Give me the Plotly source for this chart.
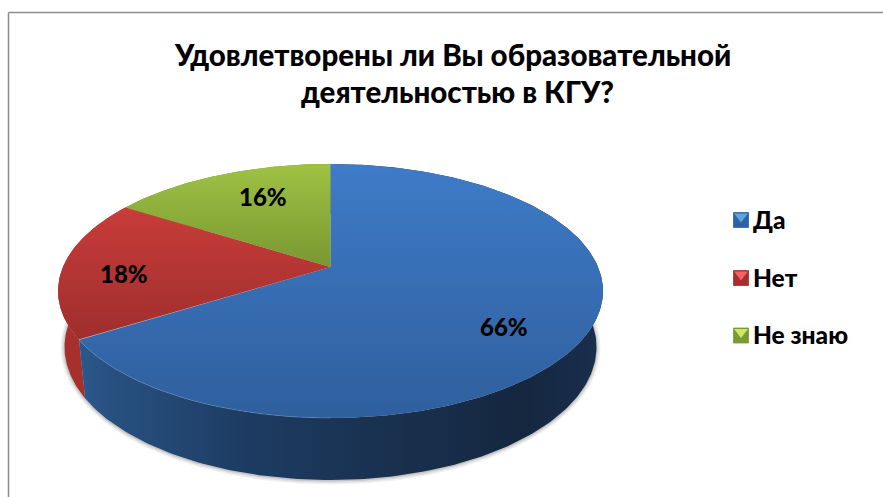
import numpy as np
import plotly.graph_objects as go

# ---- data ----
categories = ["Да", "Нет", "Не знаю"]
values = [66, 18, 16]
labels = ["66%", "18%", "16%"]
title_lines = ["Удовлетворены ли Вы образовательной", "деятельностью в КГУ?"]

# ---- style / geometry ----
FONT = "Lato, 'Noto Sans', sans-serif"
W, H = 883, 497
TOP = dict(cx=330.5, cy=291.0, rx=272.5, ry=127.0)
BOT = dict(cx=330.5, cy=347.0, rx=266.0, ry=133.0)
PERSP = 0.189  # perspective: moves the pie centre above the middle of the ellipse
LABEL_POS = [(504, 327), (124, 274), (263, 197)]
LEGEND_X = 741
LEGEND_Y = [220, 278, 335.5]
top_colors = [("#3e7bc8", "#2f5f9d"), ("#c93c3a", "#9e2e2d"), ("#9fc244", "#799831")]
top_span = [(164, 418), (207, 340), (164, 267)]
side_scale = [
    [[0, "#2d5c94"], [0.1, "#27507f"], [0.35, "#1d3b62"], [0.55, "#1a3353"], [0.85, "#15273f"], [1, "#1a2f4f"]],
    [[0, "#a8302c"], [1, "#8a2522"]],
    [[0, "#7b9a33"], [1, "#63802a"]],
]
legend_dark = ["#2f62a0", "#a52f2f", "#7a9a35"]
legend_light = ["#5fa2e6", "#f26262", "#cbe964"]


def unit(fr):
    """Point on the perspective-projected unit circle, fr = share of the turn clockwise from the top."""
    a = 2 * np.pi * np.asarray(fr)
    u, v = np.sin(a), np.cos(a)
    d = 1 + PERSP * v
    return u * np.sqrt(1 - PERSP ** 2) / d, (v + PERSP) / d


def place(px, py, e):
    return e["cx"] + e["rx"] * px, e["cy"] - e["ry"] * py


def bold(size):
    return dict(family=FONT, size=size, color="#000", weight=900)


shares = np.array(values, dtype=float) / sum(values)
edges = np.concatenate([[0], np.cumsum(shares)])
fig = go.Figure()
base = dict(mode="lines", line=dict(width=0), fill="toself", hoverinfo="skip", showlegend=False)

# soft shadow under the pie
frs = np.linspace(0, 1, 361)
for grow, alpha in ((4, 0.07), (2.5, 0.10), (1, 0.16)):
    e = dict(BOT, rx=BOT["rx"] + grow, ry=BOT["ry"] + grow, cy=BOT["cy"] + 0.5)
    x, y = place(*unit(frs), e)
    fig.add_trace(go.Scatter(x=x, y=y, fillcolor=f"rgba(60,60,60,{alpha})", **base))

# side walls, back to front
for i in (2, 1, 0):
    fr = np.linspace(edges[i], edges[i + 1], 240)
    xt, yt = place(*unit(fr), TOP)
    xb, yb = place(*unit(fr), BOT)
    x = np.concatenate([xt, xb[::-1], xt[:1]])
    y = np.concatenate([yt, yb[::-1], yt[:1]])
    fig.add_trace(go.Scatter(
        x=x, y=y, fillgradient=dict(type="horizontal", colorscale=side_scale[i], start=60, stop=603), **base))

# top faces
cpx, cpy = place(0.0, PERSP, TOP)
for i in range(3):
    fr = np.linspace(edges[i], edges[i + 1], 240)
    xt, yt = place(*unit(fr), TOP)
    x = np.concatenate([[cpx], xt, [cpx]])
    y = np.concatenate([[cpy], yt, [cpy]])
    c0, c1 = top_colors[i]
    fig.add_trace(go.Scatter(
        x=x, y=y,
        fillgradient=dict(type="vertical", colorscale=[[0, c0], [1, c1]],
                          start=top_span[i][0], stop=top_span[i][1]), **base))

# bright rim on the lower-left of the blue face
fr = np.linspace(0.5, edges[1], 120)
xt, yt = place(*unit(fr), TOP)
fig.add_trace(go.Scatter(x=xt, y=yt, mode="lines", line=dict(color="rgba(110,155,210,0.4)", width=1),
                         hoverinfo="skip", showlegend=False))

# legend swatches
for i, name in enumerate(categories):
    fig.add_trace(go.Scatter(x=[LEGEND_X], y=[LEGEND_Y[i]], mode="markers",
                             marker=dict(symbol="square", size=15, color=legend_dark[i],
                                         line=dict(color=legend_dark[i], width=0.8)),
                             hoverinfo="skip", showlegend=False))
    fig.add_trace(go.Scatter(x=[LEGEND_X], y=[LEGEND_Y[i] - 3.5], mode="markers",
                             marker=dict(symbol="triangle-down", size=12, color=legend_light[i], line=dict(width=0)),
                             hoverinfo="skip", showlegend=False))
    fig.add_annotation(x=LEGEND_X + 10, y=LEGEND_Y[i] - 1, text=name, showarrow=False, xanchor="left",
                       yanchor="middle", font=bold(24.5))

for (lx, ly), t in zip(LABEL_POS, labels):
    fig.add_annotation(x=lx, y=ly - 0.5, text=t, showarrow=False, font=bold(24))

fig.add_annotation(x=452.5, y=54, text=title_lines[0], showarrow=False, font=bold(29.5))
fig.add_annotation(x=457, y=91, text=title_lines[1], showarrow=False, font=bold(29.5))

# chart frame
fig.add_shape(type="line", x0=8.5, x1=883, y0=12.5, y1=12.5, line=dict(color="#8c8c8c", width=1.5))
fig.add_shape(type="line", x0=8.5, x1=8.5, y0=12.5, y1=497, line=dict(color="#8c8c8c", width=1.5))

fig.update_layout(
    width=W, height=H, margin=dict(l=0, r=0, t=0, b=0), paper_bgcolor="white", plot_bgcolor="white",
    xaxis=dict(range=[0, W], visible=False, fixedrange=True),
    yaxis=dict(range=[H, 0], visible=False, fixedrange=True),
)
fig.write_html("out.html", config=dict(displayModeBar=False),
               post_script="document.body.style.margin='0';document.body.style.overflow='hidden';")
